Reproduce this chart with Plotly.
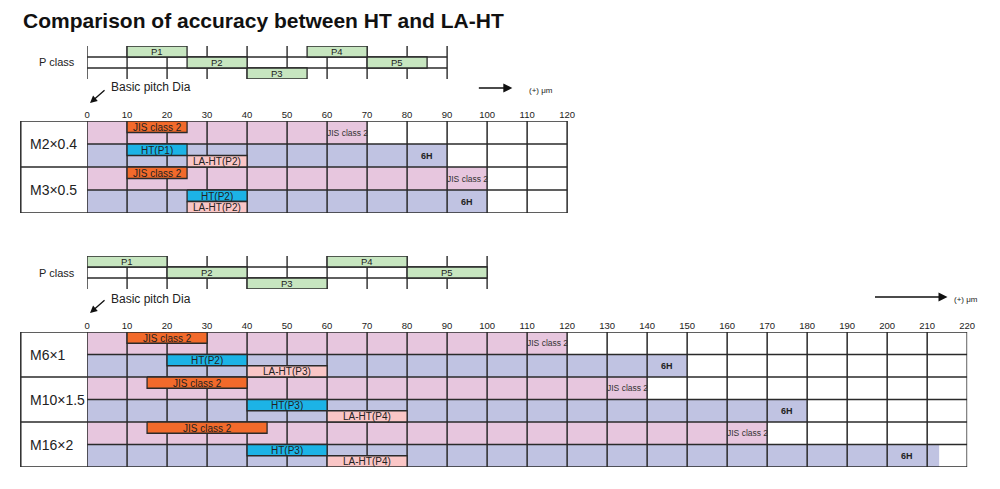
import plotly.graph_objects as go

W, H = 1000, 489
TITLE = "Comparison of accuracy between HT and LA-HT"

# ---------------- data ----------------
# P class (top section: M2, M3)
TOP_P_NAMES = ["P1", "P2", "P3", "P4", "P5"]
TOP_P_FROM = [10, 25, 40, 55, 70]
TOP_P_TO = [25, 40, 55, 70, 85]
TOP_P_ROW = [0, 1, 2, 0, 1]
TOP_P_TICKS = [0, 10, 20, 30, 40, 50, 60, 70, 80, 90]

# P class (bottom section: M6, M10, M16)
BOT_P_NAMES = ["P1", "P2", "P3", "P4", "P5"]
BOT_P_FROM = [0, 20, 40, 60, 80]
BOT_P_TO = [20, 40, 60, 80, 100]
BOT_P_ROW = [0, 1, 2, 0, 1]
BOT_P_TICKS = [0, 10, 20, 30, 40, 50, 60, 70, 80, 90, 100]

# top table
TOP_SIZES = ["M2×0.4", "M3×0.5"]
TOP_JIS2_TOL = [70, 100]
TOP_6H_TOL = [90, 100]
TOP_JIS_FROM = [10, 10]
TOP_JIS_TO = [25, 25]
TOP_HT_LABEL = ["HT(P1)", "HT(P2)"]
TOP_HT_FROM = [10, 25]
TOP_HT_TO = [25, 40]
TOP_LA_LABEL = ["LA-HT(P2)", "LA-HT(P2)"]
TOP_LA_FROM = [25, 25]
TOP_LA_TO = [40, 40]
TOP_TICKS = [0, 10, 20, 30, 40, 50, 60, 70, 80, 90, 100, 110, 120]

# bottom table
BOT_SIZES = ["M6×1", "M10×1.5", "M16×2"]
BOT_JIS2_TOL = [120, 140, 170]
BOT_6H_TOL = [150, 180, 213]
BOT_JIS_FROM = [10, 15, 15]
BOT_JIS_TO = [30, 40, 45]
BOT_HT_LABEL = ["HT(P2)", "HT(P3)", "HT(P3)"]
BOT_HT_FROM = [20, 40, 40]
BOT_HT_TO = [40, 60, 60]
BOT_LA_LABEL = ["LA-HT(P3)", "LA-HT(P4)", "LA-HT(P4)"]
BOT_LA_FROM = [40, 60, 60]
BOT_LA_TO = [60, 80, 80]
BOT_TICKS = [0, 10, 20, 30, 40, 50, 60, 70, 80, 90, 100, 110, 120, 130, 140,
             150, 160, 170, 180, 190, 200, 210, 220]

# ---------------- style ----------------
LINE = "#2a2a2a"
PINK = "#e7c6de"
BLUE = "#c0c3e2"
ORANGE = "#f26a2b"
CYAN = "#1cb3e6"
LPINK = "#fac6c6"
GREEN = "#c7e6c0"
FONT = "Liberation Sans"
PX_PER_UNIT = 4.045
X0_PX = 85
LABEL_COL_PX = 18


def pyd(px):
    return 1 - px / H


def ydom(top_px, bot_px):
    return [pyd(bot_px), pyd(top_px)]


XDOM = [X0_PX / W, (X0_PX + 220 * PX_PER_UNIT) / W]

fig = go.Figure()
annotations = []
shapes = []


def rects(x0s, x1s, y0s, y1s):
    xs, ys = [], []
    for a, b, c, d in zip(x0s, x1s, y0s, y1s):
        xs += [a, b, b, a, a, None]
        ys += [c, c, d, d, c, None]
    return xs, ys


def add_fill(xa, ya, x0s, x1s, y0s, y1s, color):
    xs, ys = rects(x0s, x1s, y0s, y1s)
    fig.add_trace(go.Scatter(x=xs, y=ys, xaxis=xa, yaxis=ya, mode="none",
                             fill="toself", fillcolor=color, hoverinfo="skip",
                             showlegend=False))


def add_boxes(xa, ya, x0s, x1s, y0s, y1s, color, lw=1.3):
    xs, ys = rects(x0s, x1s, y0s, y1s)
    fig.add_trace(go.Scatter(x=xs, y=ys, xaxis=xa, yaxis=ya, mode="lines",
                             fill="toself", fillcolor=color,
                             line=dict(color=LINE, width=lw), hoverinfo="skip",
                             showlegend=False))


def add_lines(xa, ya, segs, lw=1.5):
    xs, ys = [], []
    for (a, c), (b, d) in segs:
        xs += [a, b, None]
        ys += [c, d, None]
    fig.add_trace(go.Scatter(x=xs, y=ys, xaxis=xa, yaxis=ya, mode="lines",
                             line=dict(color=LINE, width=lw), hoverinfo="skip",
                             showlegend=False))


def label(xa, ya, x, y, text, size=9, color="#222", bold=False):
    annotations.append(dict(xref=xa, yref=ya, x=x, y=y, text=("<b>%s</b>" % text) if bold else text,
                            showarrow=False, font=dict(family=FONT, size=size, color=color),
                            xanchor="center", yanchor="middle"))


def pclass_section(xa, ya, names, p_from, p_to, p_row, ticks):
    tmax = ticks[-1]
    segs = [((t, 0), (t, 3)) for t in ticks]
    segs += [((0, 1), (tmax, 1)), ((0, 2), (tmax, 2))]
    add_lines(xa, ya, segs, lw=1.4)
    add_boxes(xa, ya, p_from, p_to, [r for r in p_row], [r + 1 for r in p_row], GREEN, lw=1.3)
    for n, a, b, r in zip(names, p_from, p_to, p_row):
        label(xa, ya, (a + b) / 2, r + 0.5, n, size=9.5)
    annotations.append(dict(xref="paper", yref=ya, x=75 / W, y=1.5, text="P class",
                            showarrow=False, xanchor="right", yanchor="middle",
                            font=dict(family=FONT, size=11, color="#222")))


def table_section(xa, ya, sizes, jis_tol, h6_tol, jf, jt, htl, hf, ht, lal, lf, lt, ticks):
    n = len(sizes)
    rows = 2 * n
    tmax = ticks[-1]
    # tolerance fills
    add_fill(xa, ya, [0] * n, jis_tol, [2 * i for i in range(n)], [2 * i + 1 for i in range(n)], PINK)
    add_fill(xa, ya, [0] * n, h6_tol, [2 * i + 1 for i in range(n)], [2 * i + 2 for i in range(n)], BLUE)
    # grid
    segs = [((t, 0), (t, rows)) for t in ticks]
    segs += [((0, r), (tmax, r)) for r in range(rows + 1)]
    add_lines(xa, ya, segs, lw=1.5)
    # bars
    add_boxes(xa, ya, jf, jt, [2 * i for i in range(n)], [2 * i + 0.5 for i in range(n)], ORANGE)
    add_boxes(xa, ya, hf, ht, [2 * i + 1 for i in range(n)], [2 * i + 1.5 for i in range(n)], CYAN)
    add_boxes(xa, ya, lf, lt, [2 * i + 1.5 for i in range(n)], [2 * i + 2 for i in range(n)], LPINK)
    for i in range(n):
        label(xa, ya, (jf[i] + jt[i]) / 2, 2 * i + 0.27, "JIS class 2", size=10)
        label(xa, ya, (hf[i] + ht[i]) / 2, 2 * i + 1.27, htl[i], size=10)
        label(xa, ya, (lf[i] + lt[i]) / 2, 2 * i + 1.77, lal[i], size=10)
        label(xa, ya, (jis_tol[i] // 10) * 10 - 5, 2 * i + 0.5, "JIS class 2", size=8.5, color="#333")
        label(xa, ya, (h6_tol[i] // 10) * 10 - 5, 2 * i + 1.5, "6H", size=9, bold=True)
        annotations.append(dict(xref="paper", yref=ya, x=25 / W, y=2 * i + 1, text=sizes[i],
                                showarrow=False, xanchor="left", yanchor="middle",
                                font=dict(family=FONT, size=14, color="#222")))
    # label column
    x_l = LABEL_COL_PX / W
    shapes.append(dict(type="line", xref="paper", yref=ya, x0=x_l, x1=x_l, y0=0, y1=rows,
                       line=dict(color=LINE, width=1.5)))
    for r in range(0, rows + 1, 2):
        shapes.append(dict(type="line", xref="paper", yref=ya, x0=x_l, x1=XDOM[0], y0=r, y1=r,
                           line=dict(color=LINE, width=1.5)))


pclass_section("x", "y", TOP_P_NAMES, TOP_P_FROM, TOP_P_TO, TOP_P_ROW, TOP_P_TICKS)
table_section("x2", "y2", TOP_SIZES, TOP_JIS2_TOL, TOP_6H_TOL, TOP_JIS_FROM, TOP_JIS_TO,
              TOP_HT_LABEL, TOP_HT_FROM, TOP_HT_TO, TOP_LA_LABEL, TOP_LA_FROM, TOP_LA_TO, TOP_TICKS)
pclass_section("x3", "y3", BOT_P_NAMES, BOT_P_FROM, BOT_P_TO, BOT_P_ROW, BOT_P_TICKS)
table_section("x4", "y4", BOT_SIZES, BOT_JIS2_TOL, BOT_6H_TOL, BOT_JIS_FROM, BOT_JIS_TO,
              BOT_HT_LABEL, BOT_HT_FROM, BOT_HT_TO, BOT_LA_LABEL, BOT_LA_FROM, BOT_LA_TO, BOT_TICKS)

# title
annotations.append(dict(xref="paper", yref="paper", x=18 / W, y=pyd(21), text="<b>%s</b>" % TITLE,
                        showarrow=False, xanchor="left", yanchor="middle",
                        font=dict(family=FONT, size=21, color="#111")))

# arrows and notes
for (tip_y, txt_y, arr_y, arr_tail_x, arr_head_x, um_x) in [(103, 87, 88, 480, 515, 530),
                                                             (313, 299, 297, 881, 955, 960)]:
    annotations.append(dict(xref="paper", yref="paper", x=88 / W, y=pyd(tip_y), ax=16, ay=-14,
                            text="", showarrow=True, arrowhead=2, arrowsize=1.1, arrowwidth=1.3,
                            arrowcolor="#111"))
    annotations.append(dict(xref="paper", yref="paper", x=107 / W, y=pyd(txt_y), text="Basic pitch Dia",
                            showarrow=False, xanchor="left", yanchor="middle",
                            font=dict(family=FONT, size=12, color="#222")))
    annotations.append(dict(xref="paper", yref="paper", x=arr_head_x / W, y=pyd(arr_y),
                            ax=arr_tail_x - arr_head_x, ay=0,
                            text="", showarrow=True, arrowhead=2, arrowsize=1.2, arrowwidth=1.5,
                            arrowcolor="#111"))
    annotations.append(dict(xref="paper", yref="paper", x=um_x / W, y=pyd(arr_y + 2), text="(+) μm",
                            showarrow=False, xanchor="left", yanchor="middle",
                            font=dict(family=FONT, size=8, color="#222")))

hidden_x = dict(domain=XDOM, range=[0, 220], visible=False, fixedrange=True)
hidden_y = dict(visible=False, fixedrange=True)


def tick_x(anchor, ticks):
    return dict(domain=XDOM, range=[0, 220], side="top", anchor=anchor, tickmode="array",
                tickvals=ticks, ticktext=[str(t) for t in ticks], showgrid=False, zeroline=False,
                showline=False, ticks="", tickfont=dict(family=FONT, size=9.5, color="#222"),
                fixedrange=True)


fig.update_layout(
    width=W, height=H, margin=dict(l=0, r=0, t=0, b=0),
    paper_bgcolor="white", plot_bgcolor="rgba(0,0,0,0)", showlegend=False,
    xaxis=dict(hidden_x, anchor="y"),
    yaxis=dict(hidden_y, domain=ydom(46, 79), range=[3, 0], anchor="x"),
    xaxis2=tick_x("y2", TOP_TICKS),
    yaxis2=dict(hidden_y, domain=ydom(121, 213), range=[4, 0], anchor="x2"),
    xaxis3=dict(hidden_x, anchor="y3"),
    yaxis3=dict(hidden_y, domain=ydom(256, 289), range=[3, 0], anchor="x3"),
    xaxis4=tick_x("y4", BOT_TICKS),
    yaxis4=dict(hidden_y, domain=ydom(332, 467), range=[6, 0], anchor="x4"),
    annotations=annotations, shapes=shapes,
)

fig.write_html("out.html", config={"displayModeBar": False},
               post_script=("document.body.style.margin='0px';"
                            "document.body.style.overflow='hidden';"
                            "document.documentElement.style.overflow='hidden';"))
